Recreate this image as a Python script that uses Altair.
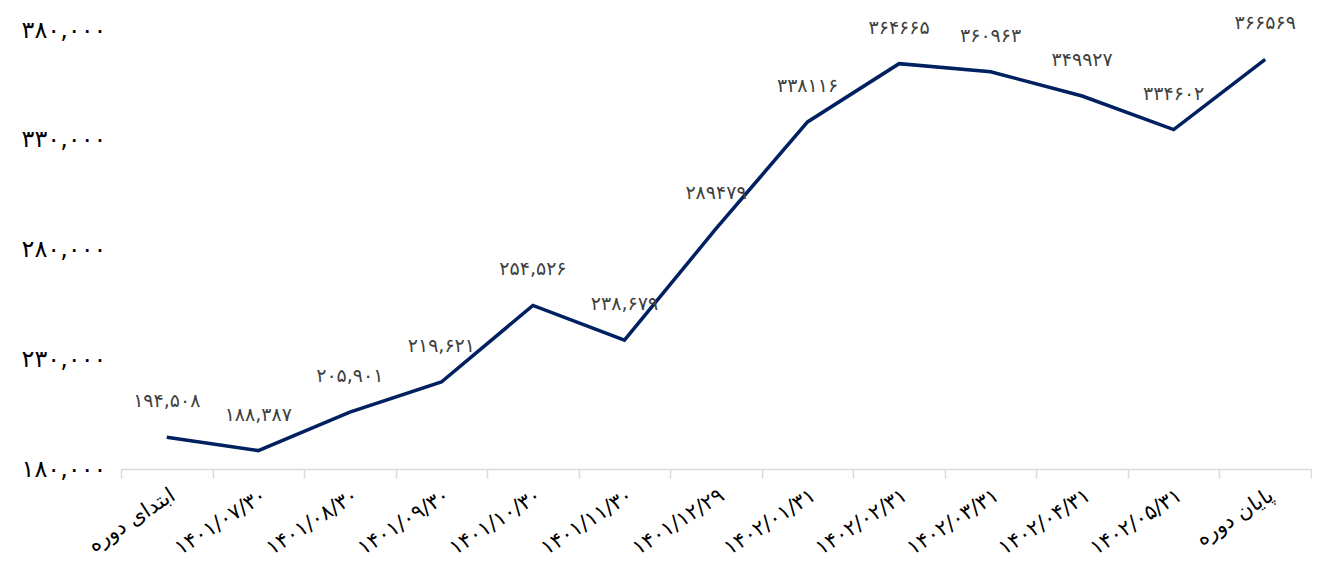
import altair as alt
import pandas as pd

categories = ["ابتدای دوره", "۱۴۰۱/۰۷/۳۰", "۱۴۰۱/۰۸/۳۰", "۱۴۰۱/۰۹/۳۰", "۱۴۰۱/۱۰/۳۰",
              "۱۴۰۱/۱۱/۳۰", "۱۴۰۱/۱۲/۲۹", "۱۴۰۲/۰۱/۳۱", "۱۴۰۲/۰۲/۳۱", "۱۴۰۲/۰۳/۳۱",
              "۱۴۰۲/۰۴/۳۱", "۱۴۰۲/۰۵/۳۱", "پایان دوره"]
values = [194508, 188387, 205901, 219621, 254526, 238679, 289479,
          338116, 364665, 360963, 349927, 334602, 366569]
value_labels = ["۱۹۴,۵۰۸", "۱۸۸,۳۸۷", "۲۰۵,۹۰۱", "۲۱۹,۶۲۱", "۲۵۴,۵۲۶", "۲۳۸,۶۷۹",
                "۲۸۹۴۷۹", "۳۳۸۱۱۶", "۳۶۴۶۶۵", "۳۶۰۹۶۳", "۳۴۹۹۲۷", "۳۳۴۶۰۲", "۳۶۶۵۶۹"]
y_ticks = [180000, 230000, 280000, 330000, 380000]
y_tick_labels = ["۱۸۰,۰۰۰", "۲۳۰,۰۰۰", "۲۸۰,۰۰۰", "۳۳۰,۰۰۰", "۳۸۰,۰۰۰"]

df = pd.DataFrame({"cat": categories, "value": values, "label": value_labels})

label_expr = ""
for v, l in zip(y_ticks, y_tick_labels):
    label_expr += f"datum.value == {v} ? '{l}' : "
label_expr += "''"

FONT = "DejaVu Sans"

x = alt.X("cat:N", sort=categories, title=None, bandPosition=0.5,
          scale=alt.Scale(type="band", paddingInner=0, paddingOuter=0),
          axis=alt.Axis(labelAngle=-33, labelAlign="right", labelBaseline="top",
                        labelFontSize=21, labelColor="#000000", labelFont=FONT,
                        labelPadding=6, tickBand="extent", tickColor="#d9d9d9",
                        tickSize=9, tickWidth=1.5, domainColor="#d9d9d9",
                        domainWidth=1.5, grid=False))
y = alt.Y("value:Q", title=None,
          scale=alt.Scale(domain=[180000, 380000], nice=False, zero=False),
          axis=alt.Axis(values=y_ticks, labelExpr=label_expr, grid=False, domain=False,
                        ticks=False, labelFontSize=24, labelColor="#000000",
                        labelFont=FONT, labelPadding=15))

line = alt.Chart(df).mark_line(color="#002060", strokeWidth=3.5).encode(x=x, y=y)
text = alt.Chart(df).mark_text(dy=-36, fontSize=19, color="#404040", font=FONT).encode(
    x=alt.X("cat:N", sort=categories, bandPosition=0.5), y="value:Q", text="label:N")

chart = (line + text).properties(width=1190, height=439,
                                 padding={"left": 13, "top": 6, "right": 0, "bottom": 0}
                                 ).configure_view(stroke=None)
chart.save("out.html", embed_options={"renderer": "svg", "actions": False})
